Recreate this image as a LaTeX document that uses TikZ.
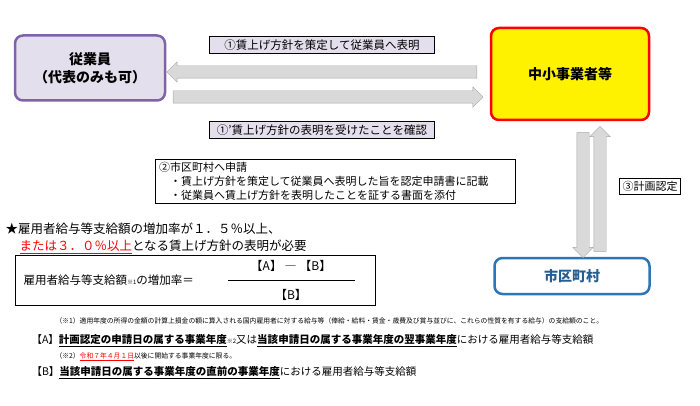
\documentclass[tikz,border=0pt]{standalone}
\usepackage{fontspec}
\setmainfont{Noto Sans CJK JP}
\usetikzlibrary{shapes.arrows}
\definecolor{lav}{HTML}{E4DFEC}
\definecolor{purp}{HTML}{7F63A8}
\definecolor{bluebd}{HTML}{2E75B6}
\definecolor{arrgray}{HTML}{D9D9D9}
\newcommand{\ul}[1]{\underline{#1}}
\begin{document}
\begin{tikzpicture}[x=1pt,y=-1pt,
  party/.style={draw,rounded corners=8pt,line width=2.5pt,font=\bfseries\fontsize{14}{18}\selectfont,align=center},
  tag/.style={draw,fill=lav,font=\fontsize{11.5}{13}\selectfont,inner sep=3pt},
  flow/.style={single arrow,draw=gray!70,fill=arrgray,minimum height=#1,minimum width=20pt,single arrow head extend=4pt,inner sep=6pt},
  note/.style={anchor=west,font=\fontsize{#1}{#1}\selectfont}]
\useasboundingbox (0,0) rectangle (700,406);
\node[party,fill=lav,draw=purp,minimum width=150pt,minimum height=65pt] (emp) at (90,68) {従業員\\（代表のみも可）};
\node[party,fill=yellow,draw=red,minimum width=158pt,minimum height=92pt] (firm) at (570,74) {中小事業者等};
\node[party,fill=white,draw=bluebd,text=bluebd!80!black,minimum width=155pt,minimum height=36pt] (city) at (572,276) {市区町村};
\node[flow=310pt,shape border rotate=180] (a1) at (325,72) {};
\node[flow=310pt] (a2) at (325,97) {};
\node[flow=125pt,shape border rotate=270] (a3) at (583,192) {};
\node[flow=125pt,shape border rotate=90] (a4) at (600,192) {};
\node[tag,minimum width=225pt] (t1) at (322,45) {①賃上げ方針を策定して従業員へ表明};
\node[tag,minimum width=225pt] (t2) at (322,130) {①'賃上げ方針の表明を受けたことを確認};
\node[draw,fill=white,font=\fontsize{11}{14}\selectfont,align=left,minimum width=360pt,text width=352pt,inner sep=3pt] (t3) at (335,181)
  {②市区町村へ申請\\\quad・賃上げ方針を策定して従業員へ表明した旨を認定申請書に記載\\\quad・従業員へ賃上げ方針を表明したことを証する書面を添付};
\node[draw,fill=white,font=\fontsize{11}{12}\selectfont,inner sep=3pt] (t4) at (650,186) {③計画認定};
\node[note=12.5] (s1) at (2,229) {★雇用者給与等支給額の増加率が１．５％以上、};
\node[note=12.5,text=red] (s2) at (16,247) {\ul{または３．０％以上}\textcolor{black}{となる賃上げ方針の表明が必要}};
\node[draw,line width=1pt,minimum width=360pt,minimum height=50pt] (fbox) at (195,280) {};
\node[note=11.5] (f1) at (20,280) {雇用者給与等支給額{\fontsize{6}{6}\selectfont ※1}の増加率＝};
\draw[line width=1pt] (228,280) -- (355,280);
\node[font=\fontsize{12}{12}\selectfont] (fa) at (291,266) {【A】 ― 【B】};
\node[font=\fontsize{12}{12}\selectfont] (fb) at (291,295) {【B】};
\node[note=6.8] (n1) at (52,321) {（※1）適用年度の所得の金額の計算上損金の額に算入される国内雇用者に対する給与等（俸給・給料・賃金・歳費及び賞与並びに、これらの性質を有する給与）の支給額のこと。};
\node[note=10.5] (n2) at (28,341) {【A】\textbf{\ul{計画認定の申請日の属する事業年度}}{\fontsize{6}{6}\selectfont ※2}又は\textbf{\ul{当該申請日の属する事業年度の翌事業年度}}における雇用者給与等支給額};
\node[note=6.8] (n3) at (52,357) {（※2）\textcolor{red}{\ul{令和７年４月１日}}以後に開始する事業年度に限る。};
\node[note=10.5] (n4) at (28,373) {【B】\textbf{\ul{当該申請日の属する事業年度の直前の事業年度}}における雇用者給与等支給額};
\end{tikzpicture}
\end{document}
